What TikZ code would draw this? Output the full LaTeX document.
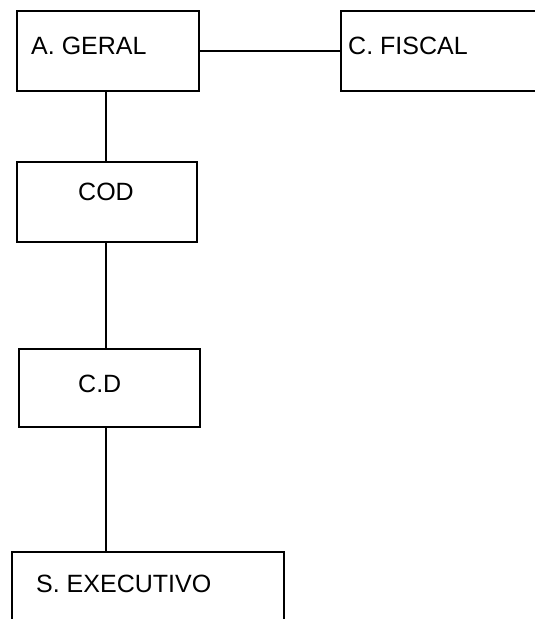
\documentclass[tikz,border=0pt]{standalone}
\usepackage{fontspec}
\setmainfont{Liberation Sans}
\begin{document}
\begin{tikzpicture}[x=1pt,y=-1pt,
  box/.style={draw=black,line width=2pt,rectangle,inner sep=0pt},
  lbl/.style={anchor=base west,inner sep=0pt,font=\fontsize{25}{30}\selectfont},
  link/.style={draw=black,line width=2pt}]
\useasboundingbox[fill=white] (0,0) rectangle (535,619);

% organisation boxes
\node[box,minimum width=182pt,minimum height=80pt] (geral) at (108,51) {};
\node[box,minimum width=219pt,minimum height=80pt] (fiscal) at (450.5,51) {};
\node[box,minimum width=180pt,minimum height=80pt] (cod) at (107,202) {};
\node[box,minimum width=181pt,minimum height=78pt] (cd) at (109.5,388) {};
\node[box,minimum width=272pt,minimum height=88pt] (exec) at (148,596) {};

% box titles
\node[lbl] (tgeral) at (31,54) {A. GERAL};
\node[lbl] (tfiscal) at (348,54) {C. FISCAL};
\node[lbl] (tcod) at (78,200) {COD};
\node[lbl] (tcd) at (78,392) {C.D};
\node[lbl] (texec) at (36,592) {S. EXECUTIVO};

% vertical spine of the chart
\coordinate (spine) at (106,0);

% connectors
\draw[link] (geral.east) -- (fiscal.west);
\draw[link] (geral.south -| spine) -- (cod.north -| spine);
\draw[link] (cod.south -| spine) -- (cd.north -| spine);
\draw[link] (cd.south -| spine) -- (exec.north -| spine);
\end{tikzpicture}
\end{document}
